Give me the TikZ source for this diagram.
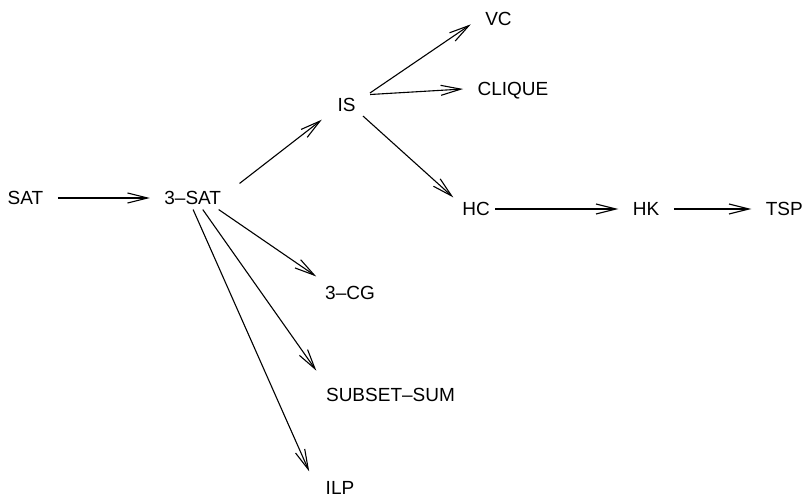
\documentclass[tikz,border=0pt]{standalone}
\usepackage{fontspec}
\setmainfont{Liberation Sans}
\usetikzlibrary{arrows.meta,positioning}

\begin{document}
\begin{tikzpicture}[x=0.5pt,y=-0.5pt,font=\fontsize{9.5}{11}\selectfont,line width=0.55pt,
  >={Straight Barb[length=10pt,width=5pt]},
  prob/.style={inner xsep=7pt,inner ysep=2pt,text height=7pt,text depth=0pt}]
  \useasboundingbox (0,0) rectangle (802,497);

  \node[prob] (sat) at (25.5,198) {SAT};
  \node[prob,right=46pt of sat] (sat3) {3--SAT};

  \node[prob] (is) at (346.5,104.5) {IS};
  \node[prob] (vc) at (498.5,19) {VC};
  \node[prob] (clique) at (513,89) {CLIQUE};

  \node[prob] (hc) at (476,209) {HC};
  \node[prob,right=57pt of hc] (hk) {HK};
  \node[prob,right=38.75pt of hk] (tsp) {TSP};

  \node[prob] (cg3) at (350,292.5) {3--CG};
  \node[prob] (subset) at (390.5,394.5) {SUBSET--SUM};
  \node[prob] (ilp) at (340,487.5) {ILP};

  \draw[->] (sat) -- (sat3);
  \draw[->,shorten <=2.5pt,shorten >=3pt] (sat3.15) -- (is.210);
  \draw[->] (is.north east) -- (vc.191);
  \draw[->] (is.23) -- (clique.west);
  \draw[->] (is.-35) -- (hc.153);
  \draw[->,shorten <=-4.5pt] (hc) -- (hk);
  \draw[->] (hk) -- (tsp);
  \draw[->,shorten >=4pt] (sat3.-24) -- (cg3.157);
  \draw[->,shorten >=7.5pt] (sat3.-49) -- (subset.170);
  \draw[->,shorten >=2.5pt] (sat3.-88) -- (ilp.north west);

\end{tikzpicture}
\end{document}
